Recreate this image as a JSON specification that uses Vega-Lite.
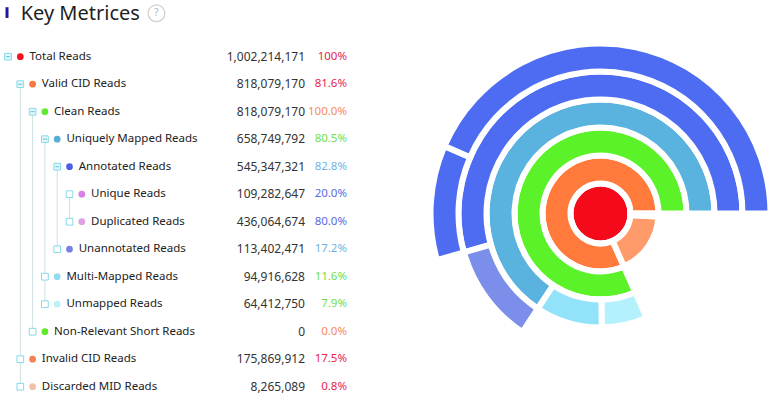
{
  "$schema": "https://vega.github.io/schema/vega-lite/v6.json",
  "padding": 0,
  "bounds": "flush",
  "spacing": 0,
  "background": "white",
  "config": {"view": {"stroke": null}, "font": "Noto Sans", "text": {"font": "Noto Sans"}},
  "resolve": {"scale": {"color": "independent"}},
  "datasets": {
    "tree": [
      {"name": "Total Reads", "value": 1002214171, "pct": "100%", "level": 0, "row": 0, "parent": "", "of": "Total Reads", "expanded": true},
      {"name": "Valid CID Reads", "value": 818079170, "pct": "81.6%", "level": 1, "row": 1, "parent": "Total Reads", "of": "Total Reads", "expanded": true},
      {"name": "Clean Reads", "value": 818079170, "pct": "100.0%", "level": 2, "row": 2, "parent": "Valid CID Reads", "of": "Valid CID Reads", "expanded": true},
      {"name": "Uniquely Mapped Reads", "value": 658749792, "pct": "80.5%", "level": 3, "row": 3, "parent": "Clean Reads", "of": "Clean Reads", "expanded": true},
      {"name": "Annotated Reads", "value": 545347321, "pct": "82.8%", "level": 4, "row": 4, "parent": "Uniquely Mapped Reads", "of": "Uniquely Mapped Reads", "expanded": true},
      {"name": "Unique Reads", "value": 109282647, "pct": "20.0%", "level": 5, "row": 5, "parent": "Annotated Reads", "of": "Annotated Reads", "expanded": false},
      {"name": "Duplicated Reads", "value": 436064674, "pct": "80.0%", "level": 5, "row": 6, "parent": "Annotated Reads", "of": "Annotated Reads", "expanded": false},
      {"name": "Unannotated Reads", "value": 113402471, "pct": "17.2%", "level": 4, "row": 7, "parent": "Uniquely Mapped Reads", "of": "Uniquely Mapped Reads", "expanded": false},
      {"name": "Multi-Mapped Reads", "value": 94916628, "pct": "11.6%", "level": 3, "row": 8, "parent": "Clean Reads", "of": "Clean Reads", "expanded": false},
      {"name": "Unmapped Reads", "value": 64412750, "pct": "7.9%", "level": 3, "row": 9, "parent": "Clean Reads", "of": "Clean Reads", "expanded": false},
      {"name": "Non-Relevant Short Reads", "value": 0, "pct": "0.0%", "level": 2, "row": 10, "parent": "Valid CID Reads", "of": "Valid CID Reads", "expanded": false},
      {"name": "Invalid CID Reads", "value": 175869912, "pct": "17.5%", "level": 1, "row": 11, "parent": "Total Reads", "of": "Total Reads", "expanded": false},
      {"name": "Discarded MID Reads", "value": 8265089, "pct": "0.8%", "level": 1, "row": 12, "parent": "Total Reads", "of": "Total Reads", "expanded": false}
    ]
  },
  "hconcat": [
    {
      "width": 220,
      "height": 418,
      "layer": [
        {
          "data": {"values": [{"label": "Key Metrices"}]},
          "mark": {"type": "text", "align": "left", "baseline": "alphabetic", "fontSize": 20, "color": "#1f1f1f"},
          "encoding": {
            "x": {"datum": 1.03, "type": "quantitative", "scale": {"domain": [0, 5], "range": [8, 69.5], "nice": false, "zero": false}, "axis": null},
            "y": {"datum": -1.33, "type": "quantitative", "scale": {"domain": [-2.0618, 13.138], "reverse": true, "nice": false, "zero": false}, "axis": null},
            "text": {"field": "label"}
          }
        },
        {
          "data": {"values": [{"label": "bar"}]},
          "mark": {"type": "rule", "strokeWidth": 3, "color": "#1b1b9a"},
          "encoding": {
            "x": {"datum": -0.08, "type": "quantitative"},
            "y": {"datum": -1.8, "type": "quantitative"},
            "y2": {"datum": -1.41}
          }
        },
        {
          "data": {"values": [{"label": "?"}]},
          "mark": {"type": "point", "shape": "circle", "size": 283, "filled": true, "fill": "white", "stroke": "#cfcfcf", "strokeWidth": 1.2, "opacity": 1},
          "encoding": {
            "x": {"datum": 12.07, "type": "quantitative"},
            "y": {"datum": -1.578, "type": "quantitative"}
          }
        },
        {
          "data": {"values": [{"label": "?"}]},
          "mark": {"type": "text", "align": "center", "baseline": "middle", "fontSize": 10, "color": "#b5b5b5"},
          "encoding": {
            "x": {"datum": 12.07, "type": "quantitative"},
            "y": {"datum": -1.578, "type": "quantitative"},
            "text": {"field": "label"}
          }
        },
        {
          "data": {"name": "tree"},
          "transform": [
            {"aggregate": [{"op": "min", "field": "row", "as": "r0"}, {"op": "max", "field": "row", "as": "r1"}], "groupby": ["parent", "level"]},
            {"filter": "datum.parent != ''"}
          ],
          "mark": {"type": "rule", "color": "#cfe0e4", "strokeWidth": 1},
          "encoding": {
            "x": {"field": "level", "type": "quantitative"},
            "y": {"field": "r0", "type": "quantitative"},
            "y2": {"field": "r1"}
          }
        },
        {
          "data": {"name": "tree"},
          "mark": {"type": "point", "shape": "square", "size": 45, "filled": true, "stroke": "#86d9e8", "strokeWidth": 1, "opacity": 1},
          "encoding": {
            "x": {"field": "level", "type": "quantitative"},
            "y": {"field": "row", "type": "quantitative"},
            "fill": {"condition": {"test": "datum.expanded", "value": "#e3f7fa"}, "value": "white"}
          }
        },
        {
          "data": {"name": "tree"},
          "transform": [{"filter": "datum.expanded"}],
          "mark": {"type": "point", "shape": "M-0.6,0L0.6,0", "size": 45, "filled": false, "stroke": "#5cc6da", "strokeWidth": 1, "opacity": 1},
          "encoding": {
            "x": {"field": "level", "type": "quantitative"},
            "y": {"field": "row", "type": "quantitative"}
          }
        },
        {
          "data": {"name": "tree"},
          "mark": {"type": "point", "shape": "circle", "size": 45, "filled": true, "opacity": 1, "xOffset": 12.3},
          "encoding": {
            "x": {"field": "level", "type": "quantitative"},
            "y": {"field": "row", "type": "quantitative"},
            "color": {
              "field": "name", "type": "nominal", "legend": null,
              "scale": {
                "domain": ["Total Reads", "Valid CID Reads", "Clean Reads", "Uniquely Mapped Reads", "Annotated Reads", "Unique Reads", "Duplicated Reads", "Unannotated Reads", "Multi-Mapped Reads", "Unmapped Reads", "Non-Relevant Short Reads", "Invalid CID Reads", "Discarded MID Reads"],
                "range": ["#f3111f", "#f7793f", "#62e82e", "#57aed8", "#4c5de8", "#d87fe8", "#dda0e6", "#7882e0", "#8eddf2", "#bfeff8", "#62e82e", "#f58050", "#f5c0aa"]
              }
            }
          }
        },
        {
          "data": {"name": "tree"},
          "mark": {"type": "text", "align": "left", "baseline": "middle", "dx": 21.5, "fontSize": 11.5, "color": "#222222"},
          "encoding": {
            "x": {"field": "level", "type": "quantitative"},
            "y": {"field": "row", "type": "quantitative"},
            "text": {"field": "name"}
          }
        }
      ]
    },
    {
      "width": 85,
      "height": 418,
      "data": {"name": "tree"},
      "mark": {"type": "text", "align": "right", "baseline": "middle", "fontSize": 12, "color": "#333333"},
      "encoding": {
        "x": {"value": "width"},
        "y": {"field": "row", "type": "quantitative", "scale": {"domain": [-2.0618, 13.138], "reverse": true, "nice": false, "zero": false}, "axis": null},
        "text": {"field": "value", "type": "quantitative", "format": ",d"}
      }
    },
    {
      "width": 42,
      "height": 418,
      "data": {"name": "tree"},
      "mark": {"type": "text", "align": "right", "baseline": "middle", "fontSize": 11.5},
      "encoding": {
        "x": {"value": "width"},
        "y": {"field": "row", "type": "quantitative", "scale": {"domain": [-2.0618, 13.138], "reverse": true, "nice": false, "zero": false}, "axis": null},
        "text": {"field": "pct"},
        "color": {
          "field": "of", "type": "nominal", "legend": null,
          "scale": {
            "domain": ["Total Reads", "Valid CID Reads", "Clean Reads", "Uniquely Mapped Reads", "Annotated Reads"],
            "range": ["#e5254a", "#f58a5e", "#6ee04a", "#6fb3de", "#5b68e3"]
          }
        }
      }
    },
    {
      "width": 429,
      "height": 418,
      "data": {"name": "tree"},
      "transform": [
        {"stack": "value", "groupby": ["level"], "sort": [{"field": "value", "order": "descending"}], "as": ["t0", "t1"]}
      ],
      "encoding": {
        "theta": {"field": "t0", "type": "quantitative", "stack": null, "scale": {"type": "linear", "domain": [0, 1002214171], "range": [1.5707963267948966, -4.71238898038469], "nice": false, "zero": false}},
        "theta2": {"field": "t1"},
        "radius": {"field": "level", "type": "quantitative", "scale": {"type": "linear", "domain": [0, 5], "range": [30, 170], "nice": false, "zero": false}},
        "radius2": {"field": "level"},
        "color": {
          "field": "name", "type": "nominal", "legend": null,
          "scale": {
            "domain": ["Total Reads", "Valid CID Reads", "Clean Reads", "Uniquely Mapped Reads", "Annotated Reads", "Unique Reads", "Duplicated Reads", "Unannotated Reads", "Multi-Mapped Reads", "Unmapped Reads", "Non-Relevant Short Reads", "Invalid CID Reads", "Discarded MID Reads"],
            "range": ["#f50a1c", "#ff7a3b", "#5cf22a", "#5ab3de", "#4e6cf2", "#4e6cf2", "#4e6cf2", "#7a8eea", "#92e3fa", "#b5f1fc", "#5cf22a", "#ff9b6a", "#f6c5b0"]
          }
        }
      },
      "layer": [
        {
          "transform": [{"filter": "datum.level == 0"}],
          "mark": {"type": "arc", "stroke": "white", "strokeWidth": 6, "radius2Offset": -30, "xOffset": 39, "yOffset": 4.5}
        },
        {
          "transform": [{"filter": "datum.level > 0"}],
          "mark": {"type": "arc", "stroke": "white", "strokeWidth": 6, "radius2Offset": -28, "xOffset": 39, "yOffset": 4.5}
        }
      ]
    }
  ]
}
